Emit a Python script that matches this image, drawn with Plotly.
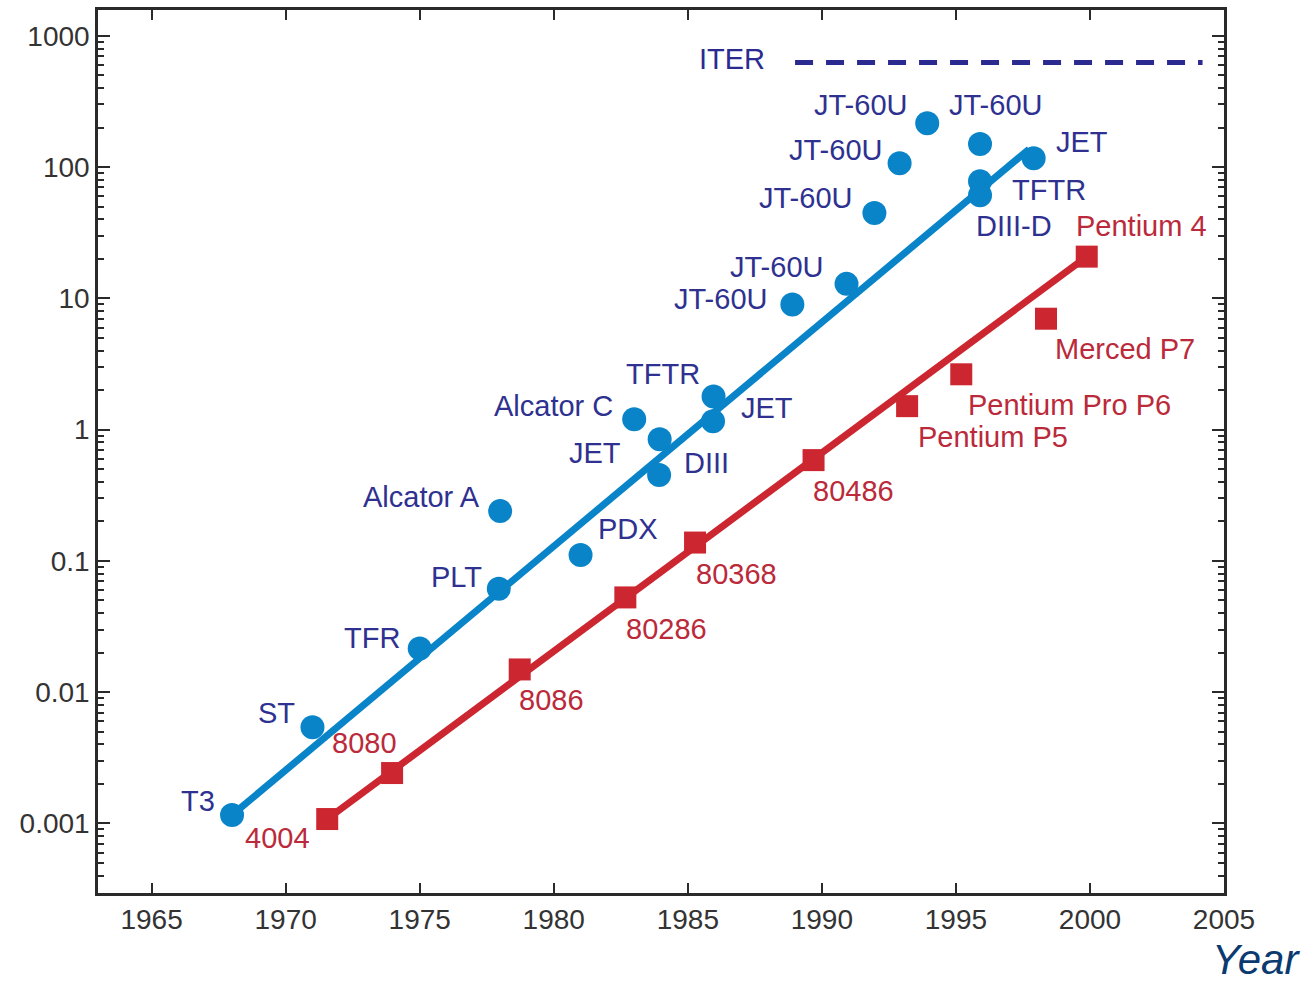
import math
import plotly.graph_objects as go

# ---------------- data ----------------
fusion_names = ["T3", "ST", "TFR", "PLT", "Alcator A", "PDX", "Alcator C", "JET", "DIII",
                "TFTR", "JET", "JT-60U", "JT-60U", "JT-60U", "JT-60U", "JT-60U", "JT-60U",
                "TFTR", "DIII-D", "JET"]
fusion_years = [1968.0, 1971.0, 1975.0, 1977.95, 1978.0, 1981.0, 1983.0, 1983.95, 1983.93,
                1985.96, 1985.94, 1988.9, 1990.92, 1991.96, 1992.9, 1993.93, 1995.9,
                1995.9, 1995.9, 1997.9]
fusion_values = [0.00116, 0.0054, 0.0215, 0.0614, 0.24, 0.111, 1.2, 0.845, 0.451,
                 1.79, 1.16, 9.0, 12.9, 44.8, 107, 216, 150,
                 78, 61, 117]

fusion_fit_years = [1968.0, 1997.73]
fusion_fit_values = [0.00116, 137]

chip_names = ["4004", "8080", "8086", "80286", "80368", "80486", "Pentium P5",
              "Pentium Pro P6", "Merced P7", "Pentium 4"]
chip_years = [1971.55, 1973.97, 1978.73, 1982.67, 1985.27, 1989.69, 1993.18,
              1995.2, 1998.36, 1999.88]
chip_values = [0.00108, 0.00242, 0.0149, 0.0527, 0.138, 0.586, 1.51,
               2.64, 7.0, 20.8]

chip_fit_years = [1971.55, 1999.88]
chip_fit_values = [0.00108, 20.8]

iter_years = [1989.0, 2004.2]
iter_values = [627, 627]

x_tick_vals = [1965, 1970, 1975, 1980, 1985, 1990, 1995, 2000, 2005]
y_tick_vals = [0.001, 0.01, 0.1, 1, 10, 100, 1000]
y_tick_text = ["0.001", "0.01", "0.1", "1", "10", "100", "1000"]

# ---------------- style ----------------
BLUE = "#0a84c8"
BLUE_TXT = "#2e3190"
RED = "#cc2630"
RED_TXT = "#bb2a3a"
ITER_C = "#2b2a90"
AXIS_C = "#2a2a2a"
FONT = "Arial, Liberation Sans, sans-serif"
LABEL_SIZE = 29

# label placement (anchor, dx px, dy px screen-down)
fusion_label_pos = [("right", -15, -14), ("right", -15, -14), ("right", -18, -11),
                    ("right", -15, -12), ("right", -18, -14), ("left", 15, -26),
                    ("right", -19, -13), ("right", -37, 14), ("left", 23, -12),
                    ("right", -12, -22), ("left", 26, -13), ("right", -23, -5),
                    ("right", -22, -17), ("right", -20, -15), ("right", -16, -13),
                    ("right", -18, -18), ("center", 15, -39), ("left", 30, 9),
                    ("left", -6, 31), ("left", 20, -16)]
chip_label_pos = [("right", -15, 19), ("center", -28, -30), ("center", 32, 31),
                  ("center", 41, 32), ("center", 41, 31), ("center", 40, 31),
                  ("center", 86, 31), ("center", 108, 31), ("center", 79, 30),
                  ("center", 55, -31)]

fig = go.Figure()

fig.add_trace(go.Scatter(x=fusion_fit_years, y=fusion_fit_values, mode="lines",
                         line=dict(color=BLUE, width=7), showlegend=False, hoverinfo="skip"))
fig.add_trace(go.Scatter(x=chip_fit_years, y=chip_fit_values, mode="lines",
                         line=dict(color=RED, width=7), showlegend=False, hoverinfo="skip"))
fig.add_trace(go.Scatter(x=iter_years, y=iter_values, mode="lines",
                         line=dict(color=ITER_C, width=5, dash="18px,13px"),
                         showlegend=False, hoverinfo="skip"))
fig.add_trace(go.Scatter(x=fusion_years, y=fusion_values, mode="markers",
                         marker=dict(symbol="circle", size=24, color=BLUE, line=dict(width=0)),
                         text=fusion_names, showlegend=False))
fig.add_trace(go.Scatter(x=chip_years, y=chip_values, mode="markers",
                         marker=dict(symbol="square", size=22, color=RED, line=dict(width=0)),
                         text=chip_names, showlegend=False))

annotations = []
for name, xv, yv, (anc, dx, dy) in zip(fusion_names, fusion_years, fusion_values, fusion_label_pos):
    annotations.append(dict(x=xv, y=math.log10(yv), xref="x", yref="y", text=name,
                            showarrow=False, xanchor=anc, yanchor="middle",
                            xshift=dx, yshift=-dy,
                            font=dict(family=FONT, size=LABEL_SIZE, color=BLUE_TXT)))
for name, xv, yv, (anc, dx, dy) in zip(chip_names, chip_years, chip_values, chip_label_pos):
    annotations.append(dict(x=xv, y=math.log10(yv), xref="x", yref="y", text=name,
                            showarrow=False, xanchor=anc, yanchor="middle",
                            xshift=dx, yshift=-dy,
                            font=dict(family=FONT, size=LABEL_SIZE, color=RED_TXT)))
annotations.append(dict(x=iter_years[0], y=math.log10(iter_values[0]), xref="x", yref="y",
                        text="ITER", showarrow=False, xanchor="right", yanchor="middle",
                        xshift=-28, yshift=3,
                        font=dict(family=FONT, size=LABEL_SIZE, color=ITER_C)))
annotations.append(dict(x=1.0685, y=-0.1025, xref="paper", yref="paper", text="<i>Year</i>",
                        showarrow=False, xanchor="right", yanchor="bottom", borderpad=0,
                        font=dict(family=FONT, size=42, color="#0b3a70")))

minor_vals = [m * 10 ** e for e in range(-4, 4) for m in range(2, 10)]

fig.update_layout(
    width=1313, height=984,
    margin=dict(l=98, r=89, t=7, b=91),
    paper_bgcolor="white", plot_bgcolor="white",
    showlegend=False,
    annotations=annotations,
    font=dict(family=FONT, color="#333333"),
    xaxis=dict(range=[1963.0, 2005.0], tickvals=x_tick_vals, ticks="inside", ticklen=10,
               tickwidth=2, tickcolor=AXIS_C, showline=True, linecolor=AXIS_C, linewidth=2.5,
               mirror="ticks", showgrid=False, zeroline=False,
               tickfont=dict(family=FONT, size=28, color="#333333")),
    yaxis=dict(type="log", range=[-3.53, 3.197], tickvals=y_tick_vals, ticktext=y_tick_text,
               ticks="inside", ticklen=12, tickwidth=2, tickcolor=AXIS_C,
               showline=True, linecolor=AXIS_C, linewidth=2.5, mirror="ticks",
               showgrid=False, zeroline=False,
               minor=dict(tickvals=minor_vals, ticks="inside", ticklen=6, tickwidth=2,
                          tickcolor=AXIS_C, showgrid=False),
               tickfont=dict(family=FONT, size=28, color="#333333")),
)

fig.write_html("out.html")
